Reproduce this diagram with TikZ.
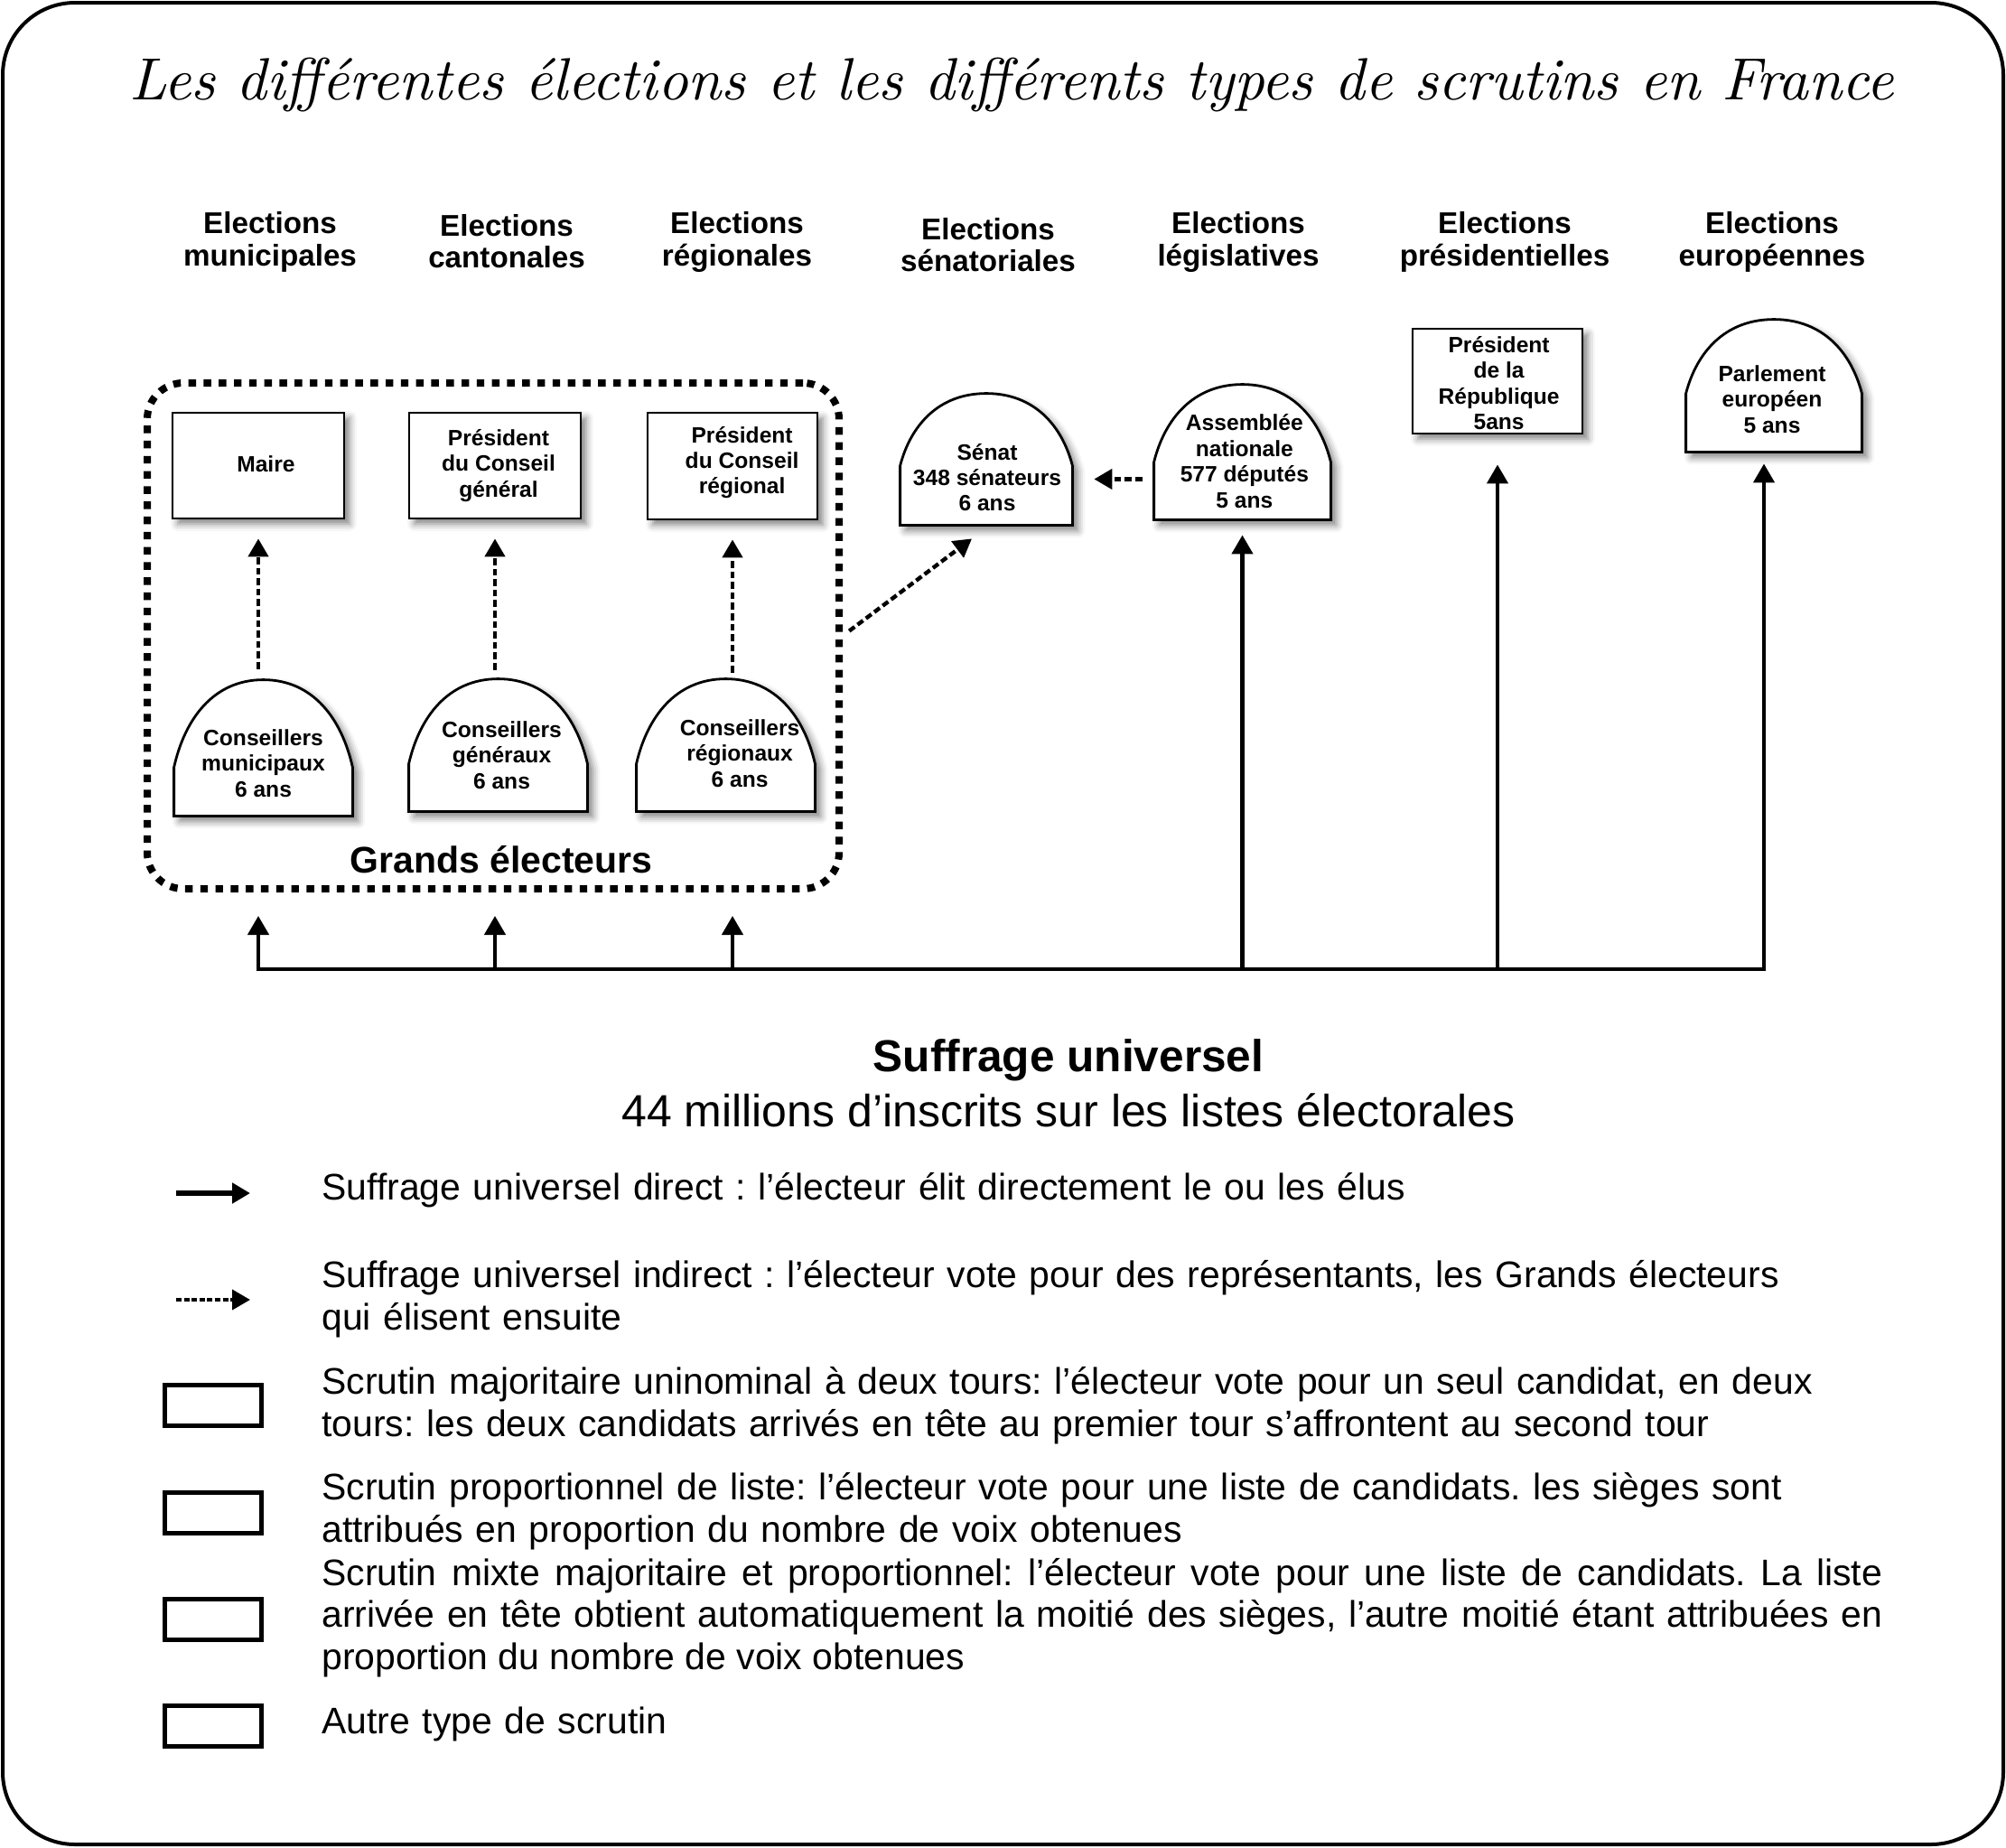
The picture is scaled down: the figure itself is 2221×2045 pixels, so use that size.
\documentclass[tikz,border=0pt]{standalone}
\usepackage{fontspec}
\usepackage{graphicx}
\newfontfamily\sansf{Liberation Sans}
\usetikzlibrary{arrows.meta,calc,shadows.blur,backgrounds}
\frenchspacing
\newcommand\archshape[2]{%
  \path[archline] let \p1=(#1.south west), \p2=(#1.north east) in
   (\x1,\y1) -- (\x1,{\y2-#2})
   .. controls ({\x1+0.06*(\x2-\x1)},{\y2-0.45*#2}) and ({\x1+0.22*(\x2-\x1)},\y2) .. ({0.5*\x1+0.5*\x2},\y2)
   .. controls ({\x2-0.22*(\x2-\x1)},\y2) and ({\x2-0.06*(\x2-\x1)},{\y2-0.45*#2}) .. (\x2,{\y2-#2})
   -- (\x2,\y1) -- cycle;}
\begin{document}
\begin{tikzpicture}[x=0.5pt,y=-0.5pt,
  hdr/.style={font=\sansf\bfseries\fontsize{16.6}{17.7}\selectfont, align=center, inner sep=0pt},
  lbl/.style={font=\sansf\bfseries\fontsize{12.3}{14.2}\selectfont, align=center, inner sep=0pt},
  shad/.style={blur shadow={shadow xshift=3pt, shadow yshift=-3pt, shadow blur radius=4pt, shadow opacity=50}},
  officebox/.style={draw, line width=1.4pt, fill=white, shad, inner sep=0pt},
  archbox/.style={inner sep=0pt},
  archline/.style={draw, line width=1.4pt, fill=white, shad},
  dasharrow/.style={line width=2.2pt, dash pattern=on 3.8pt off 2pt, -{Triangle[length=10pt,width=11pt]}},
  solidarrow/.style={line width=2.2pt, -{Triangle[length=10.5pt,width=11.5pt]}},
  legtxt/.style={font=\sansf\fontsize{20.45}{23.3}\selectfont, anchor=west, inner sep=0pt, text width=864pt, align=left},
  legbox/.style={draw, line width=2.4pt, minimum width=53.6pt, minimum height=22.6pt, inner sep=0pt}
]
\useasboundingbox (0,0) rectangle (2221,2045);
\draw[line width=2pt, rounded corners=40pt] (3,3) rectangle (2218,2042);

% title
\node[anchor=base, inner sep=0pt] (title) at (1120,110)
  {\resizebox{977pt}{!}{\itshape\fontsize{10}{12}\selectfont Les différentes élections et les différents types de scrutins en France}};

% headers
\node[hdr] (h1) at (299,268) {Elections\\municipales};
\node[hdr] (h2) at (561,267) {Elections\\cantonales};
\node[hdr] (h3) at (816,268) {Elections\\régionales};
\node[hdr] (h4) at (1094,271) {Elections\\sénatoriales};
\node[hdr] (h5) at (1371,268) {Elections\\législatives};
\node[hdr] (h6) at (1666,268) {Elections\\présidentielles};
\node[hdr] (h7) at (1962,268) {Elections\\européennes};

% Grands electeurs frame
\node[draw, line width=4pt, dash pattern=on 4.2pt off 4.2pt, rounded corners=20pt,
      minimum width=383pt, minimum height=280pt] (ge) at (546,704) {};
\node[font=\sansf\bfseries\fontsize{20.5}{24}\selectfont, inner sep=0pt] (gel) at (555,952) {Grands électeurs};

% rectangular offices
\node[officebox, minimum width=95pt, minimum height=58.5pt] (maire) at (286,515.5) {};
\node[officebox, minimum width=95pt, minimum height=58.5pt] (pcg) at (548,515.5) {};
\node[officebox, minimum width=94pt, minimum height=59pt] (pcr) at (811,516) {};
\node[officebox, minimum width=94pt, minimum height=58pt] (pdr) at (1658,422) {};
\node[lbl] (mairet) at ([xshift=4.2pt,yshift=1pt]maire.center) {Maire};
\node[lbl] (pcgt) at ([xshift=2pt]pcg.center) {Président\\du Conseil\\général};
\node[lbl] (pcrt) at ([xshift=5.3pt,yshift=2pt]pcr.center) {Président\\du Conseil\\régional};
\node[lbl] (pdrt) at ([xshift=0.8pt,yshift=-1pt]pdr.center) {Président\\de la\\République\\5ans};

% arch nodes (bounding boxes)
\node[archbox, minimum width=98.5pt, minimum height=75pt] (cm) at (291.5,828) {};
\node[archbox, minimum width=98.5pt, minimum height=73pt] (cg) at (551.5,825) {};
\node[archbox, minimum width=98.5pt, minimum height=73pt] (cr) at (803.5,825) {};
\node[archbox, minimum width=95pt, minimum height=72.5pt] (sen) at (1092,508.5) {};
\node[archbox, minimum width=97.5pt, minimum height=74.5pt] (an) at (1375.5,500.5) {};
\node[archbox, minimum width=97pt, minimum height=73pt] (pe) at (1964,427) {};

\begin{scope}[on background layer]
  \archshape{cm}{48.5pt}
  \archshape{cg}{47pt}
  \archshape{cr}{47pt}
  \archshape{sen}{40pt}
  \archshape{an}{43pt}
  \archshape{pe}{41pt}
\end{scope}

% arch texts
\node[lbl] (cmt) at ([yshift=-8.5pt]cm.center) {Conseillers\\municipaux\\6 ans};
\node[lbl] (cgt) at ([xshift=2pt,yshift=-5.5pt]cg.center) {Conseillers\\généraux\\6 ans};
\node[lbl] (crt) at ([xshift=7.8pt,yshift=-4.5pt]cr.center) {Conseillers\\régionaux\\6 ans};
\node[lbl] (sent) at ([xshift=0.5pt,yshift=-10pt]sen.center) {Sénat\\348 sénateurs\\6 ans};
\node[lbl] (ant) at ([xshift=1.2pt,yshift=-5pt]an.center) {Assemblée\\nationale\\577 députés\\5 ans};
\node[lbl] (pet) at ([xshift=-1pt,yshift=-7.5pt]pe.center) {Parlement\\européen\\5 ans};

% indirect arrows
\draw[dasharrow, shorten <=6pt, shorten >=10.5pt] (maire.south |- cm.north) -- (maire.south);
\draw[dasharrow, shorten <=5pt, shorten >=10.5pt] (pcg.south |- cg.north) -- (pcg.south);
\draw[dasharrow, shorten <=3.5pt, shorten >=10.5pt] (pcr.south |- cr.north) -- (pcr.south);
\coordinate (sentip) at ([xshift=-8pt,yshift=-7.5pt]sen.south);
\draw[dasharrow, shorten <=4.5pt] (ge.east) -- (sentip);
\coordinate (asen) at ($(an.south west)!0.3!(an.north west)$);
\draw[dasharrow, shorten <=6.5pt, shorten >=12pt] (asen) -- (sen.east |- asen);

% direct arrows
\coordinate (bus) at (0,1073);
\coordinate (peA) at ([xshift=-5.5pt]pe.south);
\draw[line width=2.2pt, line cap=rect] (maire.south |- bus) -- (peA |- bus);
\draw[solidarrow, shorten >=13pt] (maire.south |- bus) -- (maire.south |- ge.south);
\draw[solidarrow, shorten >=13pt] (pcg.south |- bus) -- (pcg.south |- ge.south);
\draw[solidarrow, shorten >=13pt] (pcr.south |- bus) -- (pcr.south |- ge.south);
\draw[solidarrow, shorten >=8.5pt] (an.south |- bus) -- (an.south);
\draw[solidarrow, shorten >=16.5pt] (pdr.south |- bus) -- (pdr.south);
\draw[solidarrow, shorten >=6.5pt] (peA |- bus) -- (peA);

% suffrage universel
\node[font=\sansf\bfseries\fontsize{24.8}{28}\selectfont, inner sep=0pt] (su) at (1183,1174) {Suffrage universel};
\node[font=\sansf\fontsize{25}{28}\selectfont, inner sep=0pt] (su2) at (1183,1229) {44 millions d’inscrits sur les listes électorales};

% legend
\coordinate (la1) at (195,1321);
\coordinate (la2) at (277,1321);
\draw[line width=2.6pt, -{Triangle[length=10pt,width=11pt]}] (la1) -- (la2);
\coordinate (lb1) at (195,1439);
\coordinate (lb2) at (277,1439);
\draw[line width=2pt, dash pattern=on 3pt off 1.3pt, -{Triangle[length=10pt,width=11pt]}] (lb1) -- (lb2);
\node[legbox] (k1) at (236,1556) {};
\node[legbox] (k2) at (236,1675) {};
\node[legbox] (k3) at (236,1793) {};
\node[legbox] (k4) at (236,1911) {};

\node[legtxt] (t1) at (356,1318) {Suffrage universel direct : l’électeur élit directement le ou les élus};
\node[legtxt] (t2) at (356,1438) {Suffrage universel indirect : l’électeur vote pour des représentants, les Grands électeurs\\qui élisent ensuite};
\node[legtxt] (t3) at (356,1556) {Scrutin majoritaire uninominal à deux tours: l’électeur vote pour un seul candidat, en deux\\tours: les deux candidats arrivés en tête au premier tour s’affrontent au second tour};
\node[legtxt] (t4) at (356,1673) {Scrutin proportionnel de liste: l’électeur vote pour une liste de candidats. les sièges sont\\attribués en proportion du nombre de voix obtenues};
\node[legtxt, align=justify] (t5) at (356,1791) {Scrutin mixte majoritaire et proportionnel: l’électeur vote pour une liste de candidats. La liste\linebreak arrivée en tête obtient automatiquement la moitié des sièges, l’autre moitié étant attribuées en\linebreak proportion du nombre de voix obtenues};
\node[legtxt] (t6) at (356,1909) {Autre type de scrutin};
\end{tikzpicture}
\end{document}
